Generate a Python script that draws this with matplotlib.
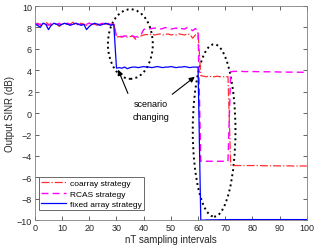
import numpy as np
import matplotlib
matplotlib.use('Agg')
import matplotlib.pyplot as plt
from matplotlib.patches import Ellipse

plt.rcParams['font.family'] = ['Liberation Sans', 'DejaVu Sans']

# sampling index 0..100
n = np.arange(0, 101)

# fixed array strategy
fixed = [8.3, 8.2, 8.0, 8.4, 8.3, 7.8, 8.2, 8.4, 8.3, 8.2,
         8.3, 8.4, 8.3, 8.2, 8.3, 8.4, 8.3, 8.2, 8.3, 7.8,
         8.1, 8.3, 8.4, 8.3, 8.2, 8.3, 8.4, 8.3, 8.2, 8.3,
         4.2, 4.25, 4.2, 4.3, 4.15, 4.25, 4.3, 4.3, 4.25, 4.3,
         4.35, 4.3, 4.3, 4.25, 4.3, 4.35, 4.3, 4.25, 4.3, 4.3,
         4.35, 4.3, 4.25, 4.3, 4.3, 4.35, 4.3, 4.25, 4.3, 4.3,
         4.3,
         -10.0, -10.0, -9.98, -9.98, -9.97, -9.97, -9.97, -9.96, -9.96, -9.96,
         -9.96, -9.95, -9.95, -9.95, -9.95, -9.95, -9.95, -9.95, -9.95, -9.95,
         -9.95, -9.95, -9.95, -9.95, -9.95, -9.95, -9.95, -9.95, -9.95, -9.95,
         -9.95, -9.95, -9.95, -9.95, -9.95, -9.95, -9.95, -9.95, -9.95, -9.95]

# coarray strategy
coarray = [8.3, 8.4, 8.2, 8.3, 8.5, 8.3, 8.2, 8.4, 8.3, 8.1,
           8.3, 8.4, 8.3, 8.3, 8.5, 8.2, 8.3, 8.4, 8.3, 8.2,
           8.4, 8.3, 8.3, 8.2, 8.4, 8.3, 8.3, 8.4, 8.2, 8.4,
           7.1, 7.15, 7.1, 7.2, 7.1, 7.15, 7.2, 6.9, 7.1, 7.2,
           7.3, 7.35, 7.3, 7.4, 7.3, 7.35, 7.4, 7.3, 7.35, 7.4,
           7.3, 7.35, 7.3, 7.4, 7.35, 7.3, 7.4, 7.35, 7.0, 7.3,
           7.5,
           3.5, 3.45, 3.4, 3.45, 3.4, 3.4, 3.45, 3.4, 3.4, 3.4,
           3.4,
           -4.85, -4.9, -4.9, -4.9, -4.9, -4.9, -4.9, -4.9, -4.9, -4.9,
           -4.9, -4.9, -4.92, -4.92, -4.92, -4.92, -4.92, -4.93, -4.93, -4.93,
           -4.93, -4.93, -4.93, -4.94, -4.94, -4.94, -4.94, -4.94, -4.95]

# RCAS strategy
rcas = [8.4, 8.3, 8.3, 8.4, 8.3, 8.2, 8.4, 8.3, 8.3, 8.4,
        8.2, 8.3, 8.4, 8.3, 8.3, 8.4, 8.3, 8.3, 8.2, 8.3,
        8.4, 8.3, 8.2, 8.3, 8.3, 8.4, 8.3, 8.3, 8.3, 8.3,
        7.2, 7.2, 7.15, 7.2, 7.2, 7.25, 7.2, 7.1, 7.2, 7.3,
        7.8, 7.9, 7.85, 7.9, 7.95, 7.9, 7.85, 7.9, 8.0, 7.9,
        7.85, 7.9, 7.95, 7.8, 7.9, 7.85, 8.0, 7.9, 7.7, 7.9,
        7.7,
        -4.5, -4.5, -4.5, -4.5, -4.5, -4.5, -4.5, -4.5, -4.5, -4.5,
        -4.5,
        3.85, 3.9, 3.9, 3.9, 3.9, 3.88, 3.88, 3.9, 3.88, 3.88,
        3.87, 3.87, 3.86, 3.86, 3.86, 3.85, 3.85, 3.85, 3.84, 3.84,
        3.84, 3.83, 3.83, 3.83, 3.82, 3.82, 3.82, 3.81, 3.8]

txt = '#262626'

fig = plt.figure(figsize=(3.23, 2.53), dpi=100)
ax = fig.add_axes([0.108, 0.126, 0.842, 0.846])

ax.plot(n, coarray, color='#ff3030', ls='-.', lw=0.9, label='coarray strategy')
ax.plot(n, rcas, color='#ff00ff', ls='--', lw=1.0, dashes=(5, 3), label='RCAS strategy')
ax.plot(n, fixed, color='#0000ff', ls='-', lw=0.9, label='fixed array strategy')

# scenario change markers
ax.add_patch(Ellipse((35.1, 6.45), 16.5, 6.5, fill=False, ec='black', ls=':', lw=1.4))
ax.add_patch(Ellipse((65.9, -1.62), 15.7, 16.1, fill=False, ec='black', ls=':', lw=1.4))

ax.text(42.7, 0.3, 'scenario\nchanging', ha='center', va='center', fontsize=6.5,
        color='black', linespacing=1.5)
ax.annotate('', xy=(30.2, 4.3), xytext=(34.6, 1.6),
            arrowprops=dict(arrowstyle='-|>', color='black', lw=0.8, mutation_scale=8))
ax.annotate('', xy=(59.6, 3.55), xytext=(49.7, 1.6),
            arrowprops=dict(arrowstyle='-|>', color='black', lw=0.8, mutation_scale=8))

ax.set_xlim(0, 100)
ax.set_ylim(-10, 10)
ax.set_xticks(np.arange(0, 101, 10))
ax.set_yticks(np.arange(-10, 11, 2))
ax.tick_params(direction='in', top=True, right=True, length=3, width=0.5,
               labelsize=6.5, colors=txt, pad=2)
for s in ax.spines.values():
    s.set_color('#808080')
    s.set_linewidth(0.6)

ax.set_xlabel('nT sampling intervals', fontsize=7, color=txt, labelpad=1.5)
ax.set_ylabel('Output SINR (dB)', fontsize=7, color=txt, labelpad=1)

leg = ax.legend(loc='lower left', bbox_to_anchor=(0.015, 0.045), fontsize=6,
                frameon=True, fancybox=False, edgecolor=txt, handlelength=3.0,
                borderpad=0.3, labelspacing=0.3, handletextpad=0.4, borderaxespad=0)
leg.get_frame().set_linewidth(0.6)

fig.savefig('out.png', dpi=100)
